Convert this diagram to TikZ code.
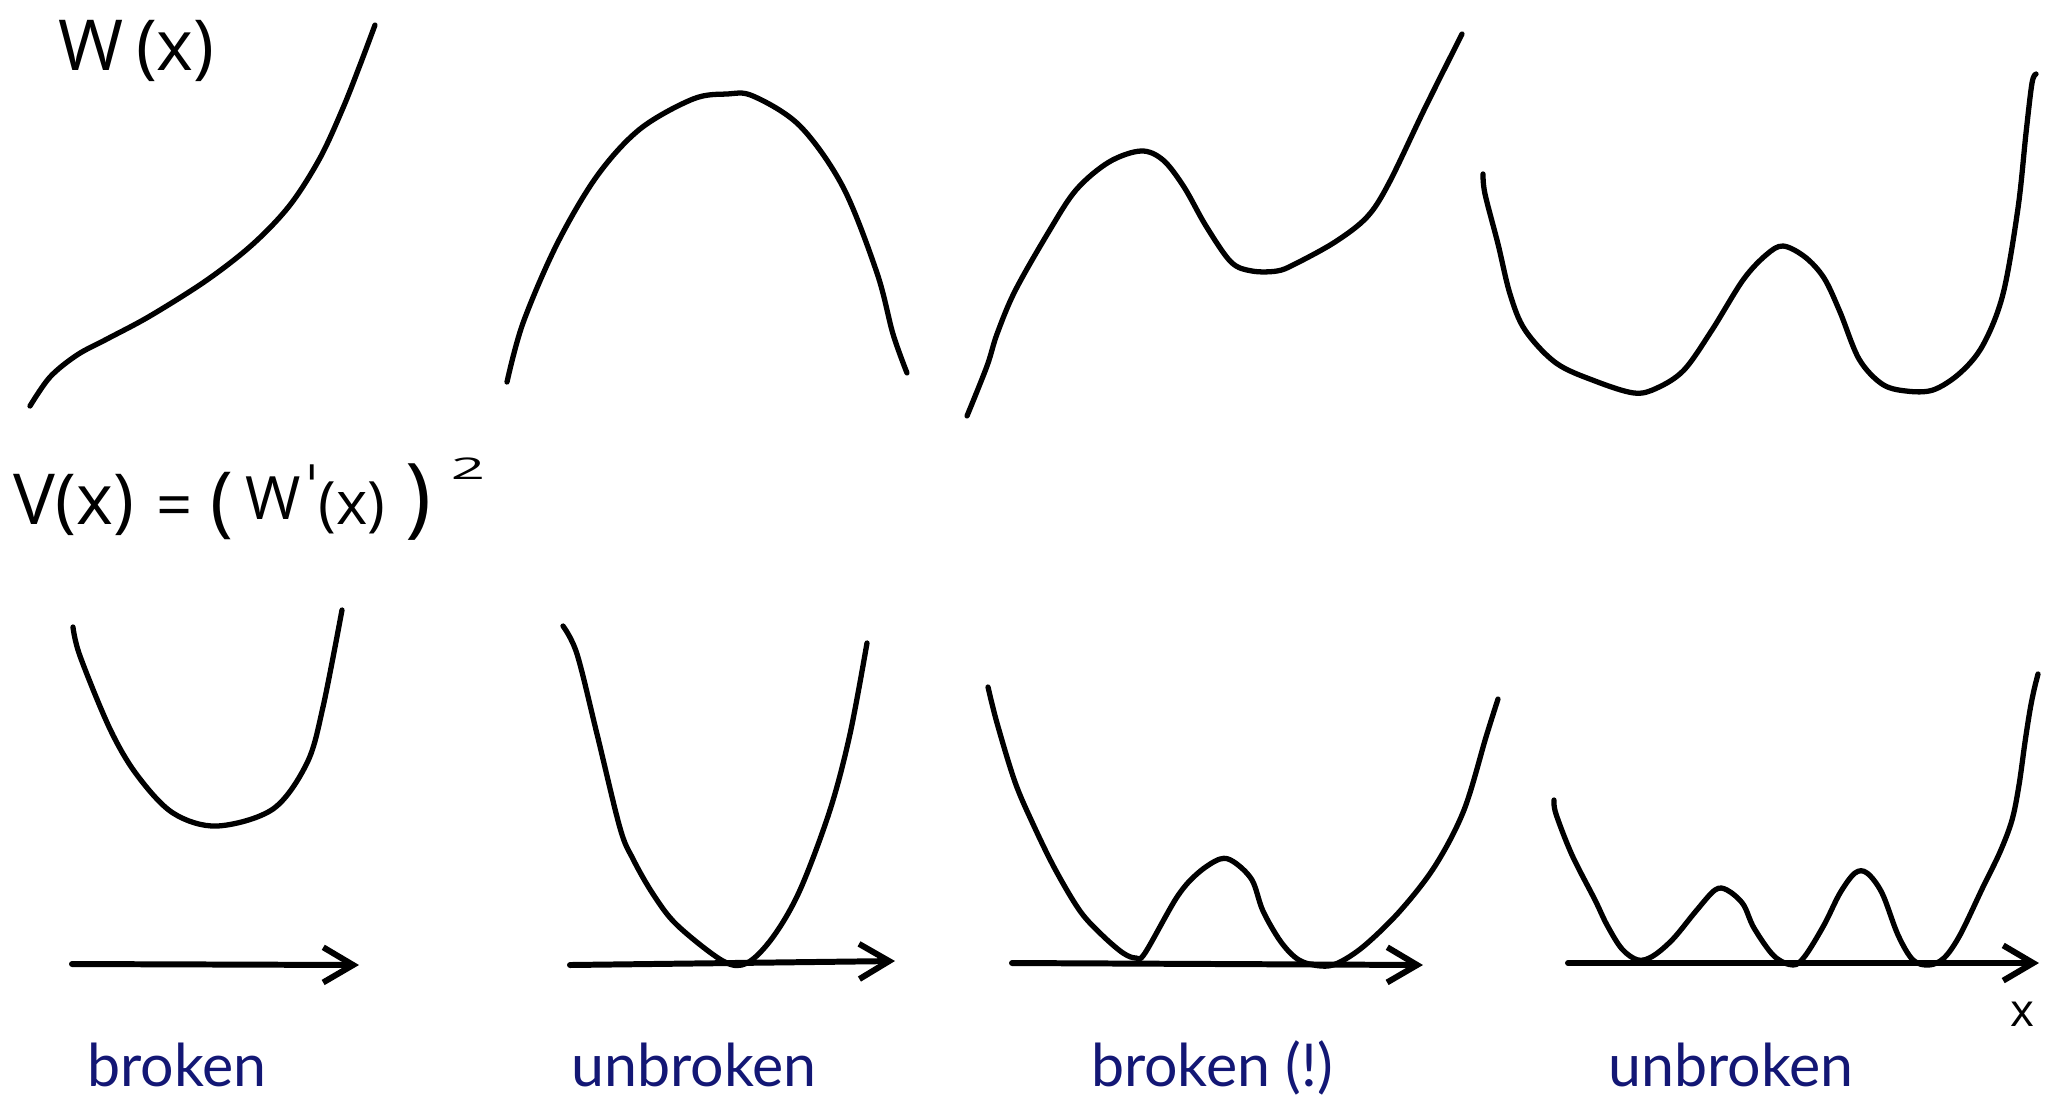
\documentclass[tikz,border=0pt]{standalone}
\usepackage{fontspec}
\usetikzlibrary{arrows.meta}
\newfontfamily\handfont{Open Sans}
\newfontfamily\labfont{Lato}
\newfontfamily\symfont{DejaVu Sans}
\definecolor{navy}{HTML}{131775}
\begin{document}
\begin{tikzpicture}[x=0.01cm,y=-0.01cm,
  curve/.style={line width=1.5pt, line cap=round, line join=round, smooth, tension=0.55},
  axisline/.style={line width=1.7pt, line cap=round, -{Straight Barb[length=8.5pt,width=10pt]}},
  lab/.style={text=navy, font=\labfont\fontsize{16.8}{20}\selectfont, inner sep=0pt, anchor=base},
  hand/.style={font=\handfont\fontsize{#1}{24}\selectfont, inner sep=0pt},
  hand/.default=20]
\useasboundingbox (0,0) rectangle (2045,1102);

% labels (handwritten)
\node[hand, anchor=base west] (wlab) at (58,70) {W\hspace{3.5pt}(x)};
\node[hand, anchor=base west] (vA) at (13,524) {V(x)};
\node[hand=18] (vEq) at (175,512) {=};
\node[hand=22] (vP1) at (222,506) {(};
\node[hand=17, anchor=base west] (vW) at (245,519) {W};
\node[font=\symfont\fontsize{16}{18}\selectfont, inner sep=0pt] (vPr) at (312,486) {\char"02C8};
\node[hand=17, anchor=base west] (vX) at (318,524) {(x)};
\node[hand=25] (vP2) at (419,502) {)};
\node[hand=17, yscale=0.5, transform shape] (sq) at (468,469) {2};

% W curves
\draw[curve] plot coordinates {(30,406) (50,377) (77,355) (107,339) (150,316) (207,280) (253,244) (290,205) (320,158) (343,108) (360,65) (375,25)};
\draw[curve] plot coordinates {(507,382) (523,323) (557,244) (597,176) (640,129) (693,99) (727,94) (753,96) (800,126) (843,187) (877,273) (893,334) (907,373)};
\draw[curve] plot coordinates {(967,416) (987,366) (997,334) (1015,291) (1048,233) (1076,190) (1109,162) (1141,151) (1163,160) (1184,187) (1206,226) (1231,262) (1252,271) (1277,271) (1295,264) (1335,242) (1367,217) (1389,183) (1425,108) (1462,34)};
\draw[curve] plot coordinates {(1483,174) (1485,194) (1498,244) (1510,294) (1525,330) (1556,363) (1595,381) (1634,393) (1657,388) (1684,370) (1712,330) (1743,280) (1766,255) (1783,246) (1805,257) (1824,278) (1840,312) (1859,359) (1882,384) (1906,391) (1933,390) (1960,373) (1983,345) (2003,294) (2018,208) (2026,133) (2032,83) (2036,74)};

% V curves
\draw[curve] plot coordinates {(73,627) (80,656) (110,729) (137,775) (173,813) (217,826) (273,809) (307,763) (323,707) (342,610)};
\draw[curve] plot coordinates {(563,626) (577,654) (597,734) (620,828) (633,859) (653,894) (677,925) (723,961) (747,963) (773,937) (800,890) (830,810) (850,734) (867,643)};
\draw[curve] plot coordinates {(988,687) (997,723) (1015,782) (1033,824) (1055,869) (1080,911) (1102,935) (1123,953) (1136,958) (1145,953) (1177,897) (1198,873) (1220,859) (1234,862) (1252,880) (1263,911) (1281,942) (1299,960) (1321,966) (1338,963) (1364,946) (1400,911) (1435,866) (1464,810) (1486,737) (1498,699)};
\draw[curve] plot coordinates {(1554,800) (1556,814) (1572,855) (1595,900) (1607,925) (1622,949) (1638,960) (1653,956) (1673,939) (1696,911) (1715,890) (1727,890) (1743,904) (1754,928) (1774,956) (1793,965) (1805,956) (1824,925) (1840,893) (1855,873) (1867,873) (1882,893) (1898,935) (1913,960) (1929,965) (1944,958) (1960,935) (1983,887) (2000,852) (2012,820) (2019,785) (2025,742) (2030,710) (2034,690) (2038,674)};

% axes
\coordinate (a1s) at (72,964);  \coordinate (a1e) at (359,965);
\coordinate (a2s) at (570,965); \coordinate (a2e) at (895,961);
\coordinate (a3s) at (1012,963); \coordinate (a3e) at (1423,965);
\coordinate (a4s) at (1568,963); \coordinate (a4e) at (2039,963);
\draw[axisline] (a1s) -- (a1e);
\draw[axisline] (a2s) -- (a2e);
\draw[axisline] (a3s) -- (a3e);
\draw[axisline] (a4s) -- (a4e);
\node[hand=13] (xlab) at (2022,1014) {x};

% verdicts
\node[lab] (t1) at (177,1086) {broken};
\node[lab] (t2) at (694,1086) {unbroken};
\node[lab] (t3) at (1212,1086) {broken (!)};
\node[lab] (t4) at (1731,1086) {unbroken};
\end{tikzpicture}
\end{document}
